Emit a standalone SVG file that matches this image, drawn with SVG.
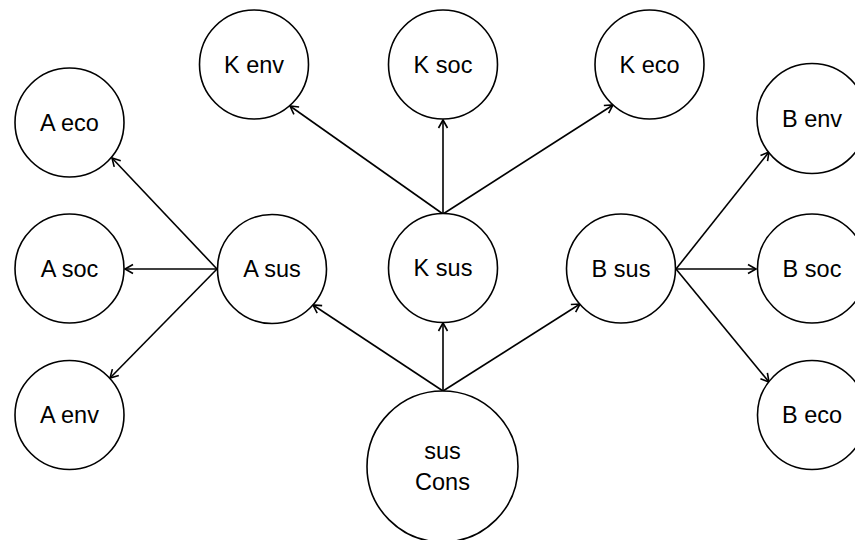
<svg xmlns="http://www.w3.org/2000/svg" width="855" height="540" viewBox="0 0 855 540">
<style>
.n circle{fill:#fff;stroke:#000;stroke-width:1.6}
.n text{font-family:"Liberation Sans",Arial,sans-serif;font-size:23.5px;fill:#000;text-anchor:middle}
#edges line{stroke:#000;stroke-width:1.6;marker-end:url(#arr)}
</style>
<defs>
<marker id="arr" markerUnits="userSpaceOnUse" markerWidth="12" markerHeight="12" refX="10" refY="6" orient="auto">
<path d="M2,1.5 L10,6 L2,10.5" fill="none" stroke="#000" stroke-width="1.6"/>
</marker>
</defs>
<rect width="855" height="540" fill="#fff"/>
<g id="edges">
<line x1="443" y1="391" x2="313" y2="305"/>
<line x1="443" y1="391" x2="443" y2="323"/>
<line x1="443" y1="391" x2="580" y2="304"/>
<line x1="443" y1="214" x2="290" y2="106"/>
<line x1="443" y1="214" x2="443" y2="120"/>
<line x1="443" y1="214" x2="613" y2="105"/>
<line x1="217" y1="269" x2="112" y2="158"/>
<line x1="217" y1="269" x2="125" y2="269"/>
<line x1="217" y1="269" x2="110" y2="378"/>
<line x1="676" y1="269" x2="769" y2="152"/>
<line x1="676" y1="269" x2="756" y2="269"/>
<line x1="676" y1="269" x2="769" y2="382"/>
</g>
<g id="K_env" class="n"><circle cx="254" cy="64.5" r="54.5"/><text x="254" y="72.5">K env</text></g>
<g id="K_soc" class="n"><circle cx="443" cy="64.5" r="54.5"/><text x="443" y="72.5">K soc</text></g>
<g id="K_eco" class="n"><circle cx="649.5" cy="64.5" r="54.5"/><text x="649.5" y="72.5">K eco</text></g>
<g id="A_eco" class="n"><circle cx="69.5" cy="122.5" r="54.5"/><text x="69.5" y="130.5">A eco</text></g>
<g id="A_soc" class="n"><circle cx="69.5" cy="268.5" r="54.5"/><text x="69.5" y="276.5">A soc</text></g>
<g id="A_env" class="n"><circle cx="69.5" cy="415" r="54.5"/><text x="69.5" y="423">A env</text></g>
<g id="A_sus" class="n"><circle cx="272" cy="269" r="54.5"/><text x="272" y="277">A sus</text></g>
<g id="K_sus" class="n"><circle cx="443" cy="268" r="54.5"/><text x="443" y="276">K sus</text></g>
<g id="B_sus" class="n"><circle cx="621" cy="268.5" r="54.5"/><text x="621" y="276.5">B sus</text></g>
<g id="B_env" class="n"><circle cx="812" cy="118.5" r="55"/><text x="812" y="126.5">B env</text></g>
<g id="B_soc" class="n"><circle cx="812" cy="268.5" r="54.5"/><text x="812" y="276.5">B soc</text></g>
<g id="B_eco" class="n"><circle cx="812" cy="415" r="54.5"/><text x="812" y="423">B eco</text></g>
<g id="sus_Cons" class="n"><circle cx="442.5" cy="466.5" r="75.5"/><text x="442.5" y="459">sus</text><text x="442.5" y="490">Cons</text></g>
</svg>
